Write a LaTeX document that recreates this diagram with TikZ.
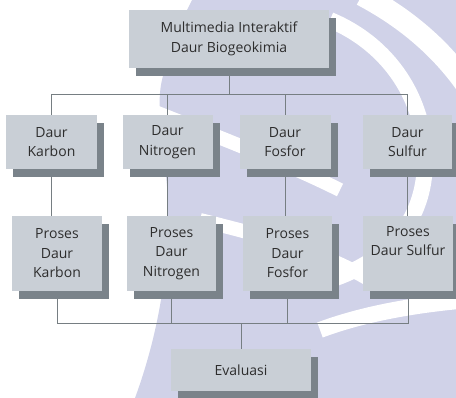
\documentclass[tikz,border=0pt]{standalone}
\usepackage{fontspec}
\setmainfont{Open Sans}
\usetikzlibrary{shadows}
\definecolor{boxfill}{RGB}{201,207,214}
\definecolor{boxshadow}{RGB}{122,131,138}
\definecolor{linec}{RGB}{118,126,130}
\definecolor{textc}{RGB}{45,45,45}
\definecolor{wmark}{RGB}{208,210,232}
\pgfdeclarelayer{wm}
\pgfdeclarelayer{lines}
\pgfsetlayers{wm,lines,main}
\begin{document}
\begin{tikzpicture}[x=1pt,y=-1pt,
  box/.style={fill=boxfill, text=textc, align=center, inner sep=0pt,
    font=\fontsize{14}{19.5}\selectfont,
    drop shadow={shadow xshift=7pt, shadow yshift=-8pt, fill=boxshadow, opacity=1}},
  conn/.style={draw=linec, line width=1pt}]
\useasboundingbox (0,0) rectangle (456,398);
% watermark
\begin{pgfonlayer}{wm}
\begin{scope}
\clip (0,0) rectangle (456,398);
\fill[wmark] (192,0) -- (456,0) -- (456,398) -- (135,398)
  .. controls (160,330) and (170,260) .. (168,200)
  .. controls (165,150) and (155,110) .. (162,80)
  .. controls (170,45) and (182,20) .. (192,0) -- cycle;
\draw[white, line width=22pt] (362,-5) .. controls (400,15) and (440,45) .. (470,90);
\draw[white, line width=16pt] (330,20) .. controls (390,45) and (425,100) .. (425,160) .. controls (425,220) and (390,260) .. (330,280);
\draw[white, line width=14pt] (150,110) .. controls (200,130) and (280,160) .. (340,190);
\draw[white, line width=14pt] (200,220) .. controls (260,235) and (320,250) .. (370,280);
\draw[white, line width=16pt] (320,330) .. controls (360,315) and (410,305) .. (470,300);
\end{scope}
\end{pgfonlayer}
% nodes
\node[box, minimum width=200pt, minimum height=58pt] (top) at (229,39) {Multimedia Interaktif\\Daur Biogeokimia};
\node[box, minimum width=91pt, minimum height=54pt] (k1) at (51.5,142) {Daur\\Karbon};
\node[box, minimum width=90pt, minimum height=54pt] (n1) at (167.5,142) {Daur\\Nitrogen};
\node[box, minimum width=91pt, minimum height=54pt] (f1) at (285,142) {Daur\\Fosfor};
\node[box, minimum width=89pt, minimum height=54pt] (s1) at (407.5,142) {Daur\\Sulfur};
\node[box, minimum width=90pt, minimum height=75pt] (k2) at (57,253.5) {Proses\\Daur\\Karbon};
\node[box, minimum width=89pt, minimum height=75pt] (n2) at (171.5,253.5) {Proses\\Daur\\Nitrogen};
\node[box, minimum width=89pt, minimum height=75pt] (f2) at (287.5,253.5) {Proses\\Daur\\Fosfor};
\node[box, minimum width=90pt, minimum height=75pt] (s2) at (408,253.5) {Proses\\Daur Sulfur\\\strut};
\node[box, minimum width=140pt, minimum height=42pt] (ev) at (241,370) {Evaluasi};
% connectors
\coordinate (bt) at (0,95);
\coordinate (bb) at (0,324);
\begin{pgfonlayer}{lines}
\draw[conn] (top.south) -- (top.south |- bt);
\draw[conn] (k1.north) -- (k1.north |- bt) -- (s1.north |- bt) -- (s1.north);
\draw[conn] (n1.north) -- (n1.north |- bt);
\draw[conn] (f1.north) -- (f1.north |- bt);
\draw[conn] (k1.south) -- (k1.south |- k2.north);
\draw[conn] (n1.south) -- (n1.south |- n2.north);
\draw[conn] (f1.south) -- (f1.south |- f2.north);
\draw[conn] (s1.south) -- (s1.south |- s2.north);
\draw[conn] (k2.south) -- (k2.south |- bb) -- (s2.south |- bb) -- (s2.south);
\draw[conn] (n2.south) -- (n2.south |- bb);
\draw[conn] (f2.south) -- (f2.south |- bb);
\draw[conn] (ev.north) -- (ev.north |- bb);
\end{pgfonlayer}
\end{tikzpicture}
\end{document}
